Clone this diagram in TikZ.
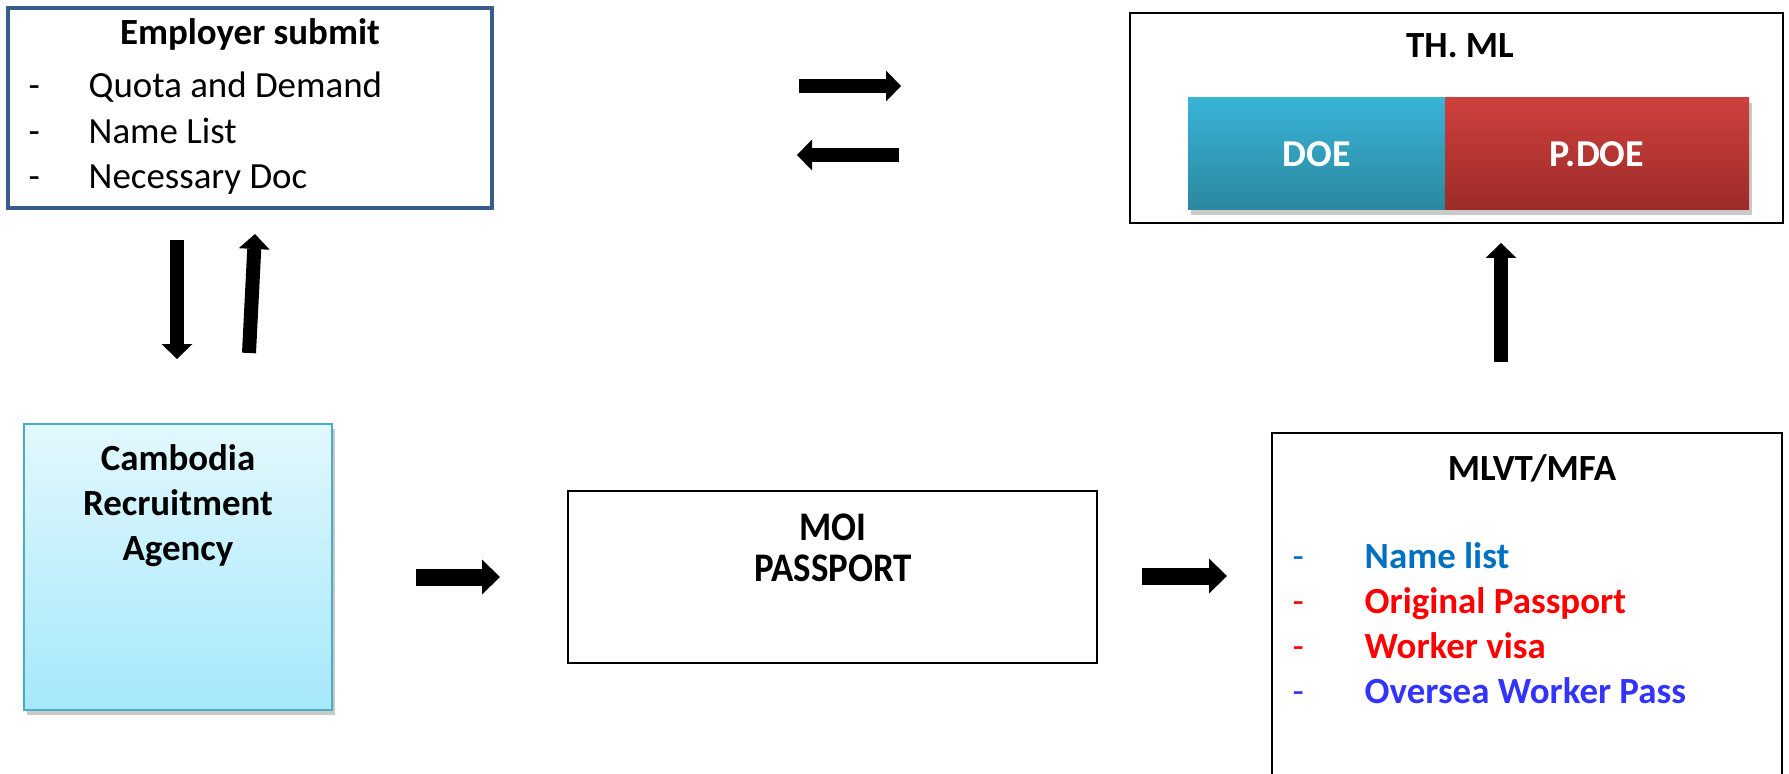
\documentclass[tikz,border=0pt]{standalone}
\usepackage{fontspec}
\setmainfont{Carlito}
\usetikzlibrary{arrows.meta,shadows}

\definecolor{embord}{HTML}{385D8A}
\definecolor{craborder}{HTML}{4BACC6}
\definecolor{cratop}{HTML}{E2F8FD}
\definecolor{crabot}{HTML}{A5E8FB}
\definecolor{doetop}{HTML}{38B4D7}
\definecolor{doebot}{HTML}{2A889E}
\definecolor{pdoetop}{HTML}{CE403D}
\definecolor{pdoebot}{HTML}{9C2B28}
\definecolor{listblue}{HTML}{0070C0}
\definecolor{listred}{HTML}{FF0000}
\definecolor{listviolet}{HTML}{3333FF}

\tikzset{
  softshadow/.style={drop shadow={shadow xshift=0.03cm,shadow yshift=-0.05cm,opacity=.3,fill=black!70}},
  barrow/.style={line width=0.14cm,-{Triangle[width=0.31cm,length=0.15cm,line width=0pt]}},
  bigbarrow/.style={line width=0.17cm,-{Triangle[width=0.35cm,length=0.18cm,line width=0pt]}}
}

\begin{document}
\begin{tikzpicture}[
    every node/.style={font=\fontsize{10.5}{12.8}\selectfont,inner sep=0pt},
    plainbox/.style={draw,line width=0.6pt},
    boxtitle/.style={anchor=base,font=\fontsize{10.5}{12.8}\selectfont\bfseries},
    colbox/.style={minimum width=#1,minimum height=1.12cm,softshadow,text=white,
      font=\fontsize{10.8}{12.8}\selectfont\bfseries}
  ]
  \useasboundingbox (0,0) rectangle (17.89,7.73);

  % employer
  \node[draw=embord,line width=1.1pt,minimum width=4.84cm,minimum height=2cm] (emp) at (2.50,6.65) {};
  \node[boxtitle] (emptitle) at (2.50,7.28) {Employer submit};
  \foreach \txt [count=\i] in {Quota and Demand,Name List,Necessary Doc}{
    \node[anchor=base west] (empdash\i) at (0.28,7.205-0.455*\i) {-};
    \node[anchor=base west] (empitem\i) at (0.88,7.205-0.455*\i) {\txt};
  }

  % agency
  \node[draw=craborder,line width=0.5pt,top color=cratop,bottom color=crabot,softshadow,
    minimum width=3.08cm,minimum height=2.86cm] (cra) at (1.78,2.06) {};
  \foreach \txt [count=\i] in {Cambodia,Recruitment,Agency}{
    \node[boxtitle] (craline\i) at (1.78,3.48-0.45*\i) {\txt};
  }

  % moi
  \node[plainbox,minimum width=5.29cm,minimum height=1.72cm] (moi) at (8.325,1.96) {};
  \node[boxtitle,yscale=1.1] (moititle) at (8.33,2.32) {MOI};
  \node[boxtitle,yscale=1.1] (moisub) at (8.33,1.92) {PASSPORT};

  % mlvt
  \node[plainbox,minimum width=5.10cm,minimum height=3.70cm] (mlvt) at (15.27,1.55) {};
  \node[boxtitle] (mlvttitle) at (15.32,2.93) {MLVT/MFA};
  \foreach \txt/\col [count=\i] in {Name list/listblue,Original Passport/listred,
      Worker visa/listred,Oversea Worker Pass/listviolet}{
    \node[anchor=base west,text=\col] (mlvtdash\i) at (12.92,2.50-0.45*\i) {-};
    \node[anchor=base west,text=\col,font=\fontsize{10.5}{12.8}\selectfont\bfseries] (mlvtitem\i) at (13.64,2.50-0.45*\i) {\txt};
  }

  % th ml
  \node[plainbox,minimum width=6.53cm,minimum height=2.10cm] (thml) at (14.565,6.55) {};
  \node[boxtitle] (thmltitle) at (14.60,7.15) {TH. ML};
  \node[colbox=2.57cm,top color=doetop,bottom color=doebot] (doe) at (13.165,6.19) {DOE};
  \node[colbox=3.04cm,top color=pdoetop,bottom color=pdoebot] (pdoe) at (15.97,6.19) {P.DOE};

  % arrows
  \coordinate (a1s) at (7.99,6.87);   \coordinate (a1e) at (9.01,6.87);
  \coordinate (a2s) at (8.99,6.18);   \coordinate (a2e) at (7.97,6.18);
  \coordinate (a3s) at (1.77,5.33);   \coordinate (a3e) at (1.77,4.14);
  \coordinate (a4s) at (2.49,4.20);   \coordinate (a4e) at (2.55,5.39);
  \coordinate (a5s) at (4.16,1.96);   \coordinate (a5e) at (5.00,1.96);
  \coordinate (a6s) at (11.42,1.97);  \coordinate (a6e) at (12.27,1.97);
  \coordinate (a7s) at (15.01,4.11);  \coordinate (a7e) at (15.01,5.30);
  \draw[barrow] (a1s) -- (a1e);
  \draw[barrow] (a2s) -- (a2e);
  \draw[barrow] (a3s) -- (a3e);
  \draw[barrow] (a4s) -- (a4e);
  \draw[bigbarrow] (a5s) -- (a5e);
  \draw[bigbarrow] (a6s) -- (a6e);
  \draw[barrow] (a7s) -- (a7e);
\end{tikzpicture}
\end{document}
